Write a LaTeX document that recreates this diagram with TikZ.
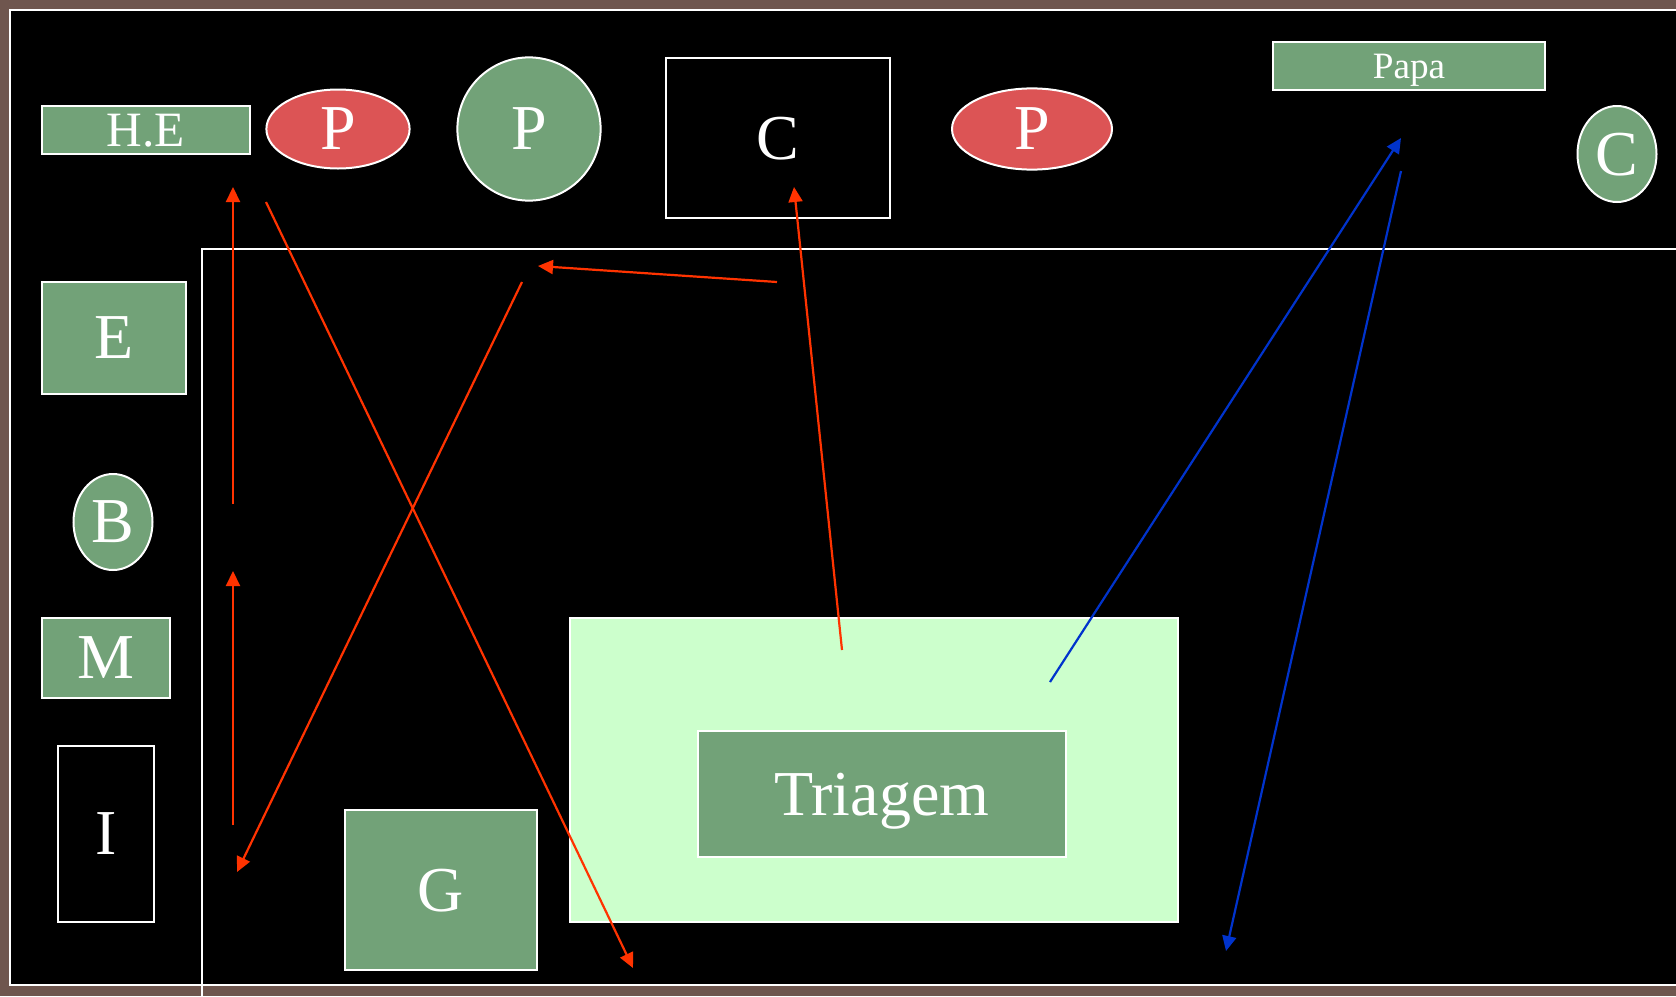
\documentclass[tikz,border=0pt]{standalone}
\usepackage{fontspec}
\setmainfont{Liberation Serif}
\usetikzlibrary{arrows.meta,shapes.geometric}
\definecolor{bgbrown}{HTML}{6F564E}
\definecolor{boxgreen}{HTML}{72A278}
\definecolor{ovalred}{HTML}{DC5455}
\definecolor{palegreen}{HTML}{CCFFCC}
\definecolor{arrred}{HTML}{FF3300}
\definecolor{arrblue}{HTML}{0033CC}
\begin{document}
\begin{tikzpicture}[x=0.5pt,y=-0.5pt,
  every node/.style={inner sep=0pt,outer sep=0pt,text depth=-2.4pt,text=white},
  greenbox/.style={draw=white,line width=1pt,fill=boxgreen,rectangle},
  darkbox/.style={draw=white,line width=1pt,fill=black,rectangle},
  redoval/.style={draw=white,line width=1pt,fill=ovalred,ellipse},
  greenoval/.style={draw=white,line width=1pt,fill=boxgreen,ellipse},
  bigtext/.style={font=\fontsize{32}{38}\selectfont},
  redarrow/.style={draw=arrred,line width=1.1pt,-{Triangle[length=7.5pt,width=7pt]}},
  bluearrow/.style={draw=arrblue,line width=1.1pt,-{Triangle[length=7.5pt,width=7pt]}}]
\useasboundingbox (0,0) rectangle (1676,996);
\fill[bgbrown] (0,0) rectangle (1676,996);
\draw[white,line width=1pt,fill=black] (10,10) -- (1680,10) -- (1680,985) -- (10,985) -- cycle;
\draw[white,line width=1pt] (202,1000) -- (202,249) -- (1680,249);

% top row
\node[greenbox,minimum width=104pt,minimum height=24pt,font=\fontsize{24.7}{29}\selectfont] (he) at (146,130) {H.E};
\node[redoval,minimum width=71.6pt,minimum height=39.5pt,bigtext] (p1) at (338,129) {P};
\node[greenoval,minimum width=71.6pt,minimum height=71.6pt,bigtext] (p2) at (529,129) {P};
\node[darkbox,minimum width=112pt,minimum height=80pt,bigtext] (c1) at (778,138) {C};
\node[redoval,minimum width=80pt,minimum height=40.6pt,bigtext] (p3) at (1032,129) {P};
\node[greenbox,minimum width=136.3pt,minimum height=24pt,font=\fontsize{18.6}{22}\selectfont] (papa) at (1409,66) {Papa};
\node[greenoval,minimum width=39.5pt,minimum height=48pt,bigtext] (c2) at (1617,154) {C};

% left column
\node[greenbox,minimum width=72pt,minimum height=56pt,bigtext] (e) at (114,338) {E};
\node[greenoval,minimum width=39.5pt,minimum height=48pt,bigtext] (b) at (113,522) {B};
\node[greenbox,minimum width=64pt,minimum height=40pt,bigtext] (m) at (106,658) {M};
\node[darkbox,minimum width=48pt,minimum height=87.7pt,bigtext] (i) at (106,834) {I};

% bottom
\node[greenbox,minimum width=96.3pt,minimum height=79.7pt,bigtext] (g) at (441,890) {G};
\node[draw=white,line width=1pt,fill=palegreen,minimum width=304pt,minimum height=151.8pt] (area) at (874,770) {};
\node[greenbox,minimum width=184pt,minimum height=63pt,bigtext] (tri) at (882,794) {Triagem};

% arrow end points
\coordinate (a1s) at (233,504);
\coordinate (a1e) at (233,187);
\coordinate (a2s) at (233,825);
\coordinate (a2e) at (233,571);
\coordinate (a3s) at (266,202);
\coordinate (a3e) at (633,968);
\coordinate (a4s) at (522,282);
\coordinate (a4e) at (237,872);
\coordinate (a5s) at (777,282);
\coordinate (a5e) at (538,266);
\coordinate (a6s) at (842,650);
\coordinate (a6e) at (794,187);
\coordinate (b1s) at (1050,682);
\coordinate (b1e) at (1401,138);
\coordinate (b2s) at (1401,171);
\coordinate (b2e) at (1226,951);

\draw[redarrow] (a1s) -- (a1e);
\draw[redarrow] (a2s) -- (a2e);
\draw[redarrow] (a3s) -- (a3e);
\draw[redarrow] (a4s) -- (a4e);
\draw[redarrow] (a5s) -- (a5e);
\draw[redarrow] (a6s) -- (a6e);
\draw[bluearrow] (b1s) -- (b1e);
\draw[bluearrow] (b2s) -- (b2e);
\end{tikzpicture}
\end{document}
